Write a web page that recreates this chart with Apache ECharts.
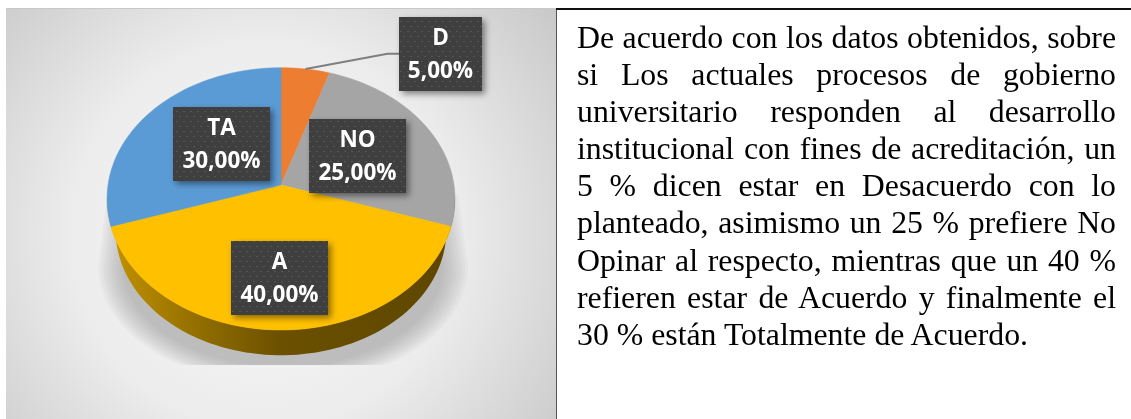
<!DOCTYPE html>
<html>
<head>
<meta charset="utf-8">
<script src="https://cdn.jsdelivr.net/npm/echarts@6/dist/echarts.min.js"></script>
<style>
  html, body { margin: 0; padding: 0; background: #fff; }
  #main { position: absolute; left: 0; top: 0; width: 1131px; height: 419px; }
  #texto {
    position: absolute; left: 577px; top: 19px; width: 539px;
    font-family: "Liberation Serif", serif; font-size: 31.8px; line-height: 37.1px; color: #000;
  }
  #texto div { white-space: nowrap; text-align: justify; text-align-last: justify; }
  #texto div:last-child { text-align-last: left; }
</style>
</head>
<body>
<div id="main"></div>
<div id="texto"></div>
<script>
const categories = ['D', 'NO', 'A', 'TA']
const values = [5, 25, 40, 30]
const labels = ['5,00%', '25,00%', '40,00%', '30,00%']
const colors = ['#ed7d31', '#a5a5a5', '#ffc000', '#5b9bd5']
const parrafo = [
  'De acuerdo con los datos obtenidos, sobre',
  'si Los actuales procesos de gobierno',
  'universitario responden al desarrollo',
  'institucional con fines de acreditación, un',
  '5 % dicen estar en Desacuerdo con lo',
  'planteado, asimismo un 25 % prefiere No',
  'Opinar al respecto, mientras que un 40 %',
  'refieren estar de Acuerdo y finalmente el',
  '30 % están Totalmente de Acuerdo.',
]

document.getElementById('texto').innerHTML = parrafo.map((l) => '<div>' + l + '</div>').join('')

// pie seen in perspective: far side shorter than near side
const CX = 281
const CY = 185
const RX = 173
const RY = 129.7
const PERSP = 0.1056
// the base rim is a bit smaller and lower than the top rim
const BASE_K = 0.95
const BASE_CY = 217.5

// label boxes [x, y, w, h]
const boxes = [
  [399, 17, 83, 74],
  [309, 119, 97, 74],
  [231, 241, 97, 74],
  [173, 107, 97, 74],
]

function topRim(deg) {
  const a = (deg * Math.PI) / 180
  const u = Math.sin(a)
  const v = Math.cos(a)
  const w = 1 + PERSP * v
  return [CX + (RX * u) / w, CY - (RY * v) / w]
}

function baseRim(deg) {
  const p = topRim(deg)
  return [CX + (p[0] - CX) * BASE_K, BASE_CY + (p[1] - CY) * BASE_K]
}

function arc(fn, from, to) {
  const pts = []
  const n = Math.max(2, Math.ceil(Math.abs(to - from) / 2))
  for (let i = 0; i <= n; i++) pts.push(fn(from + ((to - from) * i) / n))
  return pts
}

const total = values.reduce((a, b) => a + b, 0)
function startAngle(i) {
  let s = 0
  for (let k = 0; k < i; k++) s += values[k]
  return (s / total) * 360
}

function dots() {
  const c = document.createElement('canvas')
  c.width = 7
  c.height = 10
  const g = c.getContext('2d')
  g.fillStyle = '#3f3f3f'
  g.fillRect(0, 0, 7, 10)
  g.fillStyle = '#565656'
  g.fillRect(1, 1, 2, 1)
  g.fillRect(4, 6, 2, 1)
  return c
}
const dotPattern = dots()

// one layer of the floor shadow: straight flanks, round bottom, cut flat at y=365
function shadowLayer(rx, ry) {
  const pts = [[CX - rx * 0.94, 195]]
  for (let d = -90; d <= 90; d += 3) {
    const a = (d * Math.PI) / 180
    pts.push([CX + 2 + rx * Math.sin(a), Math.min(365, 267 + ry * Math.cos(a))])
  }
  pts.push([CX + rx * 0.96, 195])
  return pts
}

var myChart = echarts.init(document.getElementById('main'))
var option = {
  animation: false,
  graphic: [
    {
      type: 'rect',
      shape: { x: 6, y: 8, width: 550, height: 411 },
      style: {
        fill: new echarts.graphic.RadialGradient(0.47, 0.55, 0.95, [
          { offset: 0, color: '#fbfbfb' },
          { offset: 0.5, color: '#ececec' },
          { offset: 1, color: '#c4c4c4' },
        ]),
      },
    },
    { type: 'rect', shape: { x: 6, y: 8, width: 550, height: 1 }, style: { fill: '#c8c8c8' } },
    { type: 'rect', shape: { x: 556, y: 8, width: 1, height: 411 }, style: { fill: '#555' } },
    { type: 'rect', shape: { x: 556, y: 8, width: 575, height: 2 }, style: { fill: '#111' } },
  ],
  series: [
    {
      type: 'custom',
      coordinateSystem: 'none',
      silent: true,
      z: 1,
      data: [[0]],
      renderItem() {
        const children = []
        for (let k = 0; k < 10; k++) {
          children.push({
            type: 'polygon',
            shape: { points: shadowLayer(185 - k * 2.8, 118 - k * 2) },
            style: { fill: 'rgba(140,140,143,0.06)' },
          })
        }
        return { type: 'group', children }
      },
    },
    {
      // side wall, only the front slice shows it
      type: 'custom',
      coordinateSystem: 'none',
      silent: true,
      z: 2,
      data: [[2]],
      renderItem() {
        const pts = arc(topRim, 95, 265).concat(arc(baseRim, 265, 95))
        return {
          type: 'polygon',
          shape: { points: pts },
          style: {
            fill: new echarts.graphic.LinearGradient(1, 0, 0, 0, [
              { offset: 0, color: '#5e4600' },
              { offset: 0.5, color: '#6b5000' },
              { offset: 0.72, color: '#8f6c00' },
              { offset: 1, color: '#c49300' },
            ]),
          },
        }
      },
    },
    {
      name: 'sectores',
      type: 'custom',
      coordinateSystem: 'none',
      z: 3,
      data: values.map((v, i) => [i, v]),
      renderItem(params, api) {
        const i = api.value(0)
        const from = startAngle(i)
        const to = from + (api.value(1) / total) * 360
        return {
          type: 'polygon',
          shape: { points: [[CX, CY]].concat(arc(topRim, from, to)) },
          style: { fill: colors[i], stroke: colors[i], lineWidth: 0.5 },
        }
      },
    },
    {
      name: 'etiquetas',
      type: 'custom',
      coordinateSystem: 'none',
      z: 4,
      data: values.map((v, i) => [i, v]),
      renderItem(params, api) {
        const i = api.value(0)
        const b = boxes[i]
        const children = []
        if (i === 0) {
          const mid = topRim((startAngle(0) + startAngle(1)) / 2)
          children.push({
            type: 'polyline',
            shape: { points: [mid, [387.5, 53.7], [b[0], 53.7]] },
            style: { stroke: '#7f7f7f', lineWidth: 2, fill: null },
          })
        }
        children.push({
          type: 'rect',
          shape: { x: b[0], y: b[1], width: b[2], height: b[3] },
          style: {
            fill: { image: dotPattern, repeat: 'repeat' },
            shadowBlur: 6,
            shadowOffsetX: 3,
            shadowOffsetY: 3,
            shadowColor: 'rgba(0,0,0,0.45)',
          },
        })
        const textStyle = {
          fill: '#fff',
          font: '700 22.5px "Open Sans"',
          align: 'center',
          verticalAlign: 'middle',
        }
        children.push({
          type: 'text',
          style: { ...textStyle, text: categories[i], x: b[0] + b[2] / 2, y: b[1] + 22 },
        })
        children.push({
          type: 'text',
          style: { ...textStyle, text: labels[i], x: b[0] + b[2] / 2, y: b[1] + 55 },
        })
        return { type: 'group', children }
      },
    },
  ],
}
option && myChart.setOption(option)
</script>
</body>
</html>
